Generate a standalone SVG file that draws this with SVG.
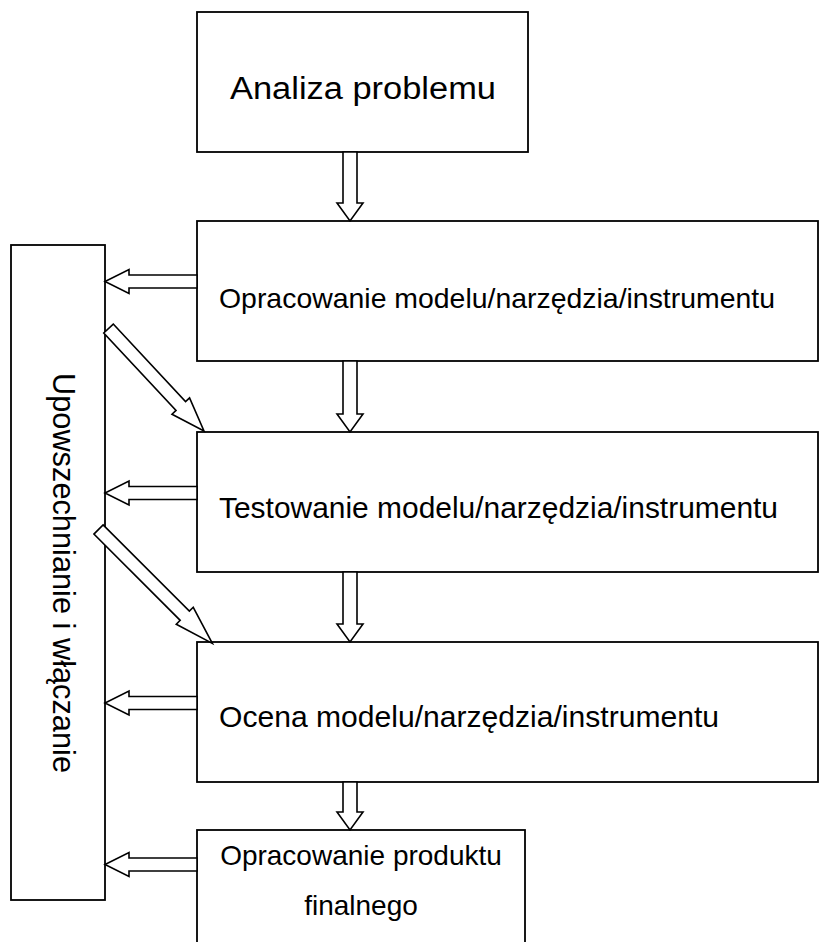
<svg xmlns="http://www.w3.org/2000/svg" width="819" height="942" viewBox="0 0 819 942">
<style>
.box{fill:#fff;stroke:#000;stroke-width:1.8}
.arr{fill:#fff;stroke:#000;stroke-width:1.6;stroke-linejoin:miter}
.t{font-family:"Liberation Sans",Arial,sans-serif;font-size:28px;fill:#000}
</style>
<rect width="819" height="942" fill="#fff"/>
<g id="n1"><rect class="box" x="197" y="12" width="331" height="140"/><text class="t" style="font-size:31px" x="363" y="99" text-anchor="middle" textLength="266" lengthAdjust="spacingAndGlyphs">Analiza problemu</text></g>
<g id="n2"><rect class="box" x="197" y="221" width="621" height="140"/><text class="t" x="219" y="308" textLength="556" lengthAdjust="spacingAndGlyphs">Opracowanie modelu/narzędzia/instrumentu</text></g>
<g id="n3"><rect class="box" x="197" y="432" width="621" height="140"/><text class="t" style="font-size:29px" x="219" y="518" textLength="559" lengthAdjust="spacingAndGlyphs">Testowanie modelu/narzędzia/instrumentu</text></g>
<g id="n4"><rect class="box" x="197" y="642" width="621" height="140"/><text class="t" style="font-size:29px" x="219" y="727" textLength="500" lengthAdjust="spacingAndGlyphs">Ocena modelu/narzędzia/instrumentu</text></g>
<g id="n5"><rect class="box" x="197" y="830" width="328" height="130"/><text class="t" x="361" y="865" text-anchor="middle">Opracowanie produktu</text><text class="t" x="361" y="915" text-anchor="middle">finalnego</text></g>
<g id="side"><rect class="box" x="11" y="245" width="94" height="655"/><text class="t" style="font-size:31px" text-anchor="middle" textLength="400" lengthAdjust="spacingAndGlyphs" transform="translate(53,573) rotate(90)">Upowszechnianie i włączanie</text></g>
<g id="connectors">
<polygon class="arr" points="343,152 357,152 357,203 363,203 350,221 337,203 343,203"/>
<polygon class="arr" points="343,361 357,361 357,414 363,414 350,432 337,414 343,414"/>
<polygon class="arr" points="343,572 357,572 357,624 363,624 350,642 337,624 343,624"/>
<polygon class="arr" points="343,782 357,782 357,812 363,812 350,830 337,812 343,812"/>
<polygon class="arr" points="197,275 129,275 129,269.5 105,281.5 129,293.5 129,288 197,288"/>
<polygon class="arr" points="197,486.5 129,486.5 129,481 105,493 129,505 129,499.5 197,499.5"/>
<polygon class="arr" points="197,696.5 129,696.5 129,691 105,703 129,715 129,709.5 197,709.5"/>
<polygon class="arr" points="197,858 129,858 129,852.5 105,864.5 129,876.5 129,871 197,871"/>
<polygon class="arr" transform="translate(108.5,328.5) rotate(47)" points="0,-6.5 106,-6.5 106,-12 140,0 106,12 106,6.5 0,6.5"/>
<polygon class="arr" transform="translate(98.5,529.5) rotate(45)" points="0,-6.5 122,-6.5 122,-12 161,0 122,12 122,6.5 0,6.5"/>
</g>
</svg>
